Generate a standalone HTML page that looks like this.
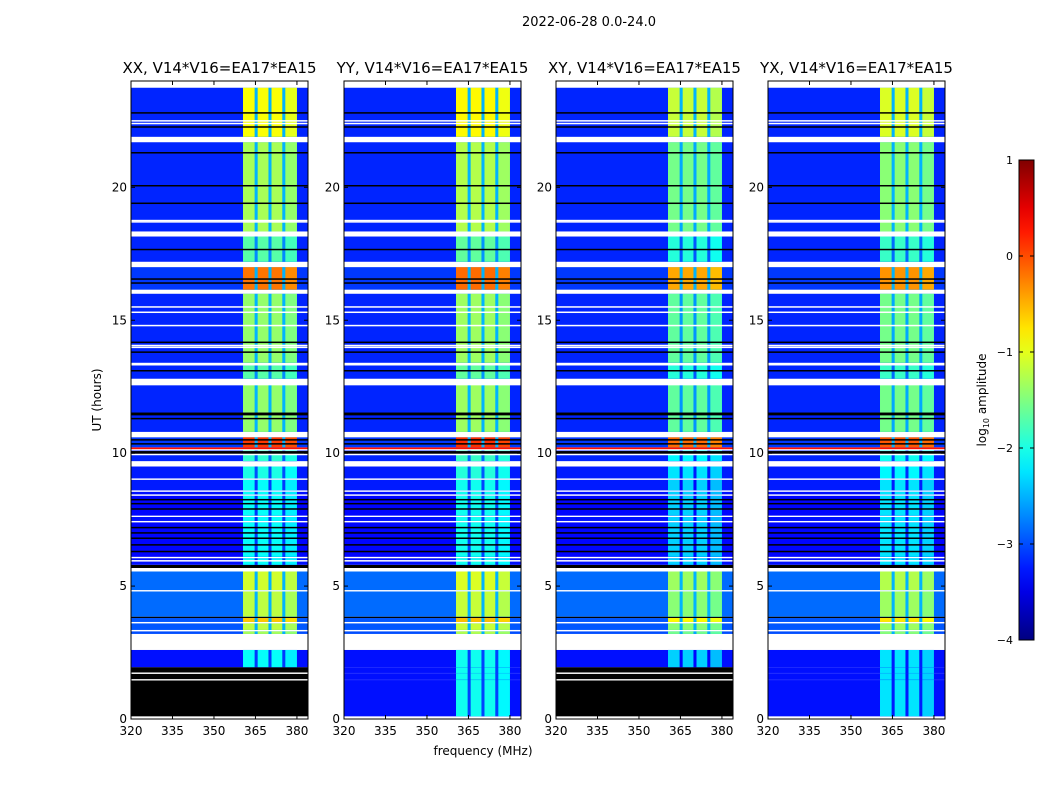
<!DOCTYPE html>
<html><head><meta charset="utf-8">
<style>
html,body{margin:0;padding:0;background:#fff;}
svg{display:block;font-family:"DejaVu Sans","Liberation Sans",sans-serif;}
</style></head>
<body>
<svg id="fig" width="1050" height="800" viewBox="0 0 1050 800">
<text x="589" y="26" font-size="13" text-anchor="middle">2022-06-28 0.0-24.0</text>
<text x="483" y="755" font-size="12" text-anchor="middle">frequency (MHz)</text>
<text transform="translate(101,400) rotate(-90)" font-size="12" text-anchor="middle">UT (hours)</text>
<g id="panels"></g>
<g id="cbar"></g>
</svg>
<script>
// ---- data ----
const panelTitles = ["XX, V14*V16=EA17*EA15","YY, V14*V16=EA17*EA15","XY, V14*V16=EA17*EA15","YX, V14*V16=EA17*EA15"];
const panelLefts = [131,344,556,768];
const panelBandOffset = [0, 0.05, -0.25, -0.15];
const panelBottomBlack = [true, false, true, false];
const xTicks = [320,335,350,365,380];
const yTicks = [0,5,10,15,20];
const cbarTicks = [1,0,-1,-2,-3,-4];
// sub-bands in MHz
const subBandStart = [360.5,365.8,370.8,375.8];
const subBandEnd   = [364.7,369.7,374.7,380.0];
// time segments: [startHour, endHour, kind, backgroundLevel, bandLevel]
const segStart = [0,0.1,1.45,1.5,1.7,1.75,1.95,2.6,3.2,3.3,3.35,3.6,3.65,3.8,3.85,4.8,4.85,5.55,5.68,5.8,6.05,6.1,7.4,7.45,7.6,7.65,8.4,8.45,8.55,8.6,9.0,9.05,9.5,9.7,10.1,10.15,10.22,10.6,10.8,12.6,12.8,13.3,13.4,16.0,16.15,17.0,17.2,18.15,18.34,21.7,21.9,23.75];
const segEnd   = [0.1,1.45,1.5,1.7,1.75,1.95,2.6,3.2,3.3,3.35,3.6,3.65,3.8,3.85,4.8,4.85,5.55,5.68,5.8,6.05,6.1,7.4,7.45,7.6,7.65,8.4,8.45,8.55,8.6,9.0,9.05,9.5,9.7,10.1,10.15,10.22,10.6,10.8,12.6,12.8,13.3,13.4,16.0,16.15,17.0,17.2,18.15,18.34,21.7,21.9,23.75,24];
const segKind  = ["w","k","w","k","w","k","d","w","d","w","d","w","d","k","d","w","d","w","k","d","w","d","w","d","w","d","w","d","w","d","w","d","w","d","w","d","d","w","d","w","d","w","d","w","d","w","d","w","d","w","d","w"];
const segBg    = [0,0,0,0,0,0,-3.3,0,-3.0,0,-2.95,0,-2.95,0,-2.85,0,-2.85,0,0,-3.3,0,-3.35,0,-3.3,0,-3.35,0,-3.3,0,-3.25,0,-3.25,0,-3.2,0,0.3,-3.1,0,-3.2,0,-3.2,0,-3.2,0,-3.1,0,-3.2,0,-3.2,0,-3.2,0];
const segBand  = [0,0,0,0,0,0,-2.1,0,-1.3,0,-1.2,0,-0.6,0,-1.2,0,-1.1,0,0,-2.1,0,-2.1,0,-2.1,0,-2.1,0,-2.1,0,-2.1,0,-2.0,0,-1.9,0,0.3,0.1,0,-1.4,0,-1.7,0,-1.4,0,-0.2,0,-1.7,0,-1.3,0,-0.9,0];
// thin flag lines (hours)
const blackLines = [6.3,6.55,6.8,7.0,7.2,7.9,8.1,8.25,10.0,10.05,10.35,10.5,11.3,11.45,11.5,13.1,13.8,14.17,16.4,16.55,17.66,19.4,20.06,21.3,22.27,22.8];
const whiteLines = [12.58,13.98,14.05,14.8,15.3,15.5,18.7,18.75,22.4,22.5,9.95,5.95];

// ---- scales ----
const TOP=81, BOT=719, W=177, FMIN=320, FMAX=384;
function xs(f,left){return left+(f-FMIN)/(FMAX-FMIN)*W;}
function ys(h){return BOT-h/24*(BOT-TOP);}
function jet(v){
  let t=Math.max(0,Math.min(1,(v+4)/5));
  const c=x=>Math.round(255*Math.max(0,Math.min(1,x)));
  return `rgb(${c(1.5-Math.abs(4*t-3))},${c(1.5-Math.abs(4*t-2))},${c(1.5-Math.abs(4*t-1))})`;
}
const NS="http://www.w3.org/2000/svg";
function mk(tag,attrs,parent){const e=document.createElementNS(NS,tag);for(const k in attrs)e.setAttribute(k,attrs[k]);parent.appendChild(e);return e;}

const panels=document.getElementById('panels');
panelLefts.forEach((L,p)=>{
  const g=mk('g',{},panels);
  
  
  for(let i=0;i<segStart.length;i++){
    let kind=segKind[i], bg=segBg[i], band=segBand[i];
    if(!panelBottomBlack[p] && segEnd[i]<=1.95 && segStart[i]>=0.1){kind='d';bg=-3.3;band=-2.1;}
    const y0=ys(segEnd[i]), y1=ys(segStart[i]);
    if(kind!=='d'){
      const r=mk('rect',{x:L,y:y0,width:W,height:y1-y0,fill:kind==='w'?'#fff':'#000'},g);
      
      
      continue;
    }
    const r=mk('rect',{x:L,y:y0,width:W,height:y1-y0,fill:jet(bg)},g);
    
    
    if(bg>0) continue;
    const bl=band+panelBandOffset[p];
    const gap=mk('rect',{x:xs(subBandStart[0],L),y:y0,width:xs(subBandEnd[3],L)-xs(subBandStart[0],L),height:y1-y0,fill:jet(Math.min(bl-1.0,-2.5))},g);
    
    
    for(let s=0;s<subBandStart.length;s++){
      const c=mk('rect',{x:xs(subBandStart[s],L),y:y0,width:xs(subBandEnd[s],L)-xs(subBandStart[s],L),height:y1-y0,fill:jet(bl+(s===3?-0.1:0))},g);
      
      
    }
  }
  blackLines.forEach(h=>{const l=mk('rect',{x:L,y:ys(h)-0.75,width:W,height:1.5,fill:'#000'},g);
    });
  whiteLines.forEach(h=>{const l=mk('rect',{x:L,y:ys(h)-0.75,width:W,height:1.5,fill:'#fff'},g);
    });
  const fr=mk('rect',{x:L,y:TOP,width:W,height:BOT-TOP,fill:'none',stroke:'#000','stroke-width':1},g);
  
  const t=mk('text',{x:L+W/2,y:73,'font-size':15,'text-anchor':'middle'},g);t.textContent=panelTitles[p];
  
  xTicks.forEach(v=>{const x=xs(v,L);
    mk('line',{x1:x,x2:x,y1:BOT,y2:BOT-4,stroke:'#000'},g);mk('line',{x1:x,x2:x,y1:TOP,y2:TOP+4,stroke:'#000'},g);
    const tx=mk('text',{x:x,y:BOT+16,'font-size':12,'text-anchor':'middle'},g);tx.textContent=v;
    });
  yTicks.forEach(v=>{const y=ys(v);
    mk('line',{x1:L,x2:L+4,y1:y,y2:y,stroke:'#000'},g);mk('line',{x1:L+W,x2:L+W-4,y1:y,y2:y,stroke:'#000'},g);
    const ty=mk('text',{x:L-4,y:y+4,'font-size':12,'text-anchor':'end'},g);ty.textContent=v;
    });
});

// colorbar
const cb=document.getElementById('cbar');
const CB_X=1019, CB_W=15, CB_T=160, CB_B=640;
const defs=mk('defs',{},cb);
const lg=mk('linearGradient',{id:'jetg',x1:0,y1:1,x2:0,y2:0},defs);
for(let i=0;i<=20;i++){mk('stop',{offset:i/20,'stop-color':jet(-4+5*i/20)},lg);}
const cbr=mk('rect',{x:CB_X,y:CB_T,width:CB_W,height:CB_B-CB_T,fill:'url(#jetg)',stroke:'#000'},cb);

cbarTicks.forEach(v=>{const y=CB_B-(v+4)/5*(CB_B-CB_T);
  mk('line',{x1:CB_X,x2:CB_X+4,y1:y,y2:y,stroke:'#000'},cb);mk('line',{x1:CB_X+CB_W,x2:CB_X+CB_W-4,y1:y,y2:y,stroke:'#000'},cb);
  const t=mk('text',{x:1013,y:y+4,'font-size':11,'text-anchor':'end'},cb);t.textContent=v<0?'\u2212'+(-v):v;
  });
const cl=mk('text',{transform:'translate(986,400) rotate(-90)','font-size':12,'text-anchor':'middle'},cb);
cl.innerHTML='log<tspan font-size="8" dy="3">10</tspan><tspan dy="-3"> amplitude</tspan>';

</script>
</body></html>
